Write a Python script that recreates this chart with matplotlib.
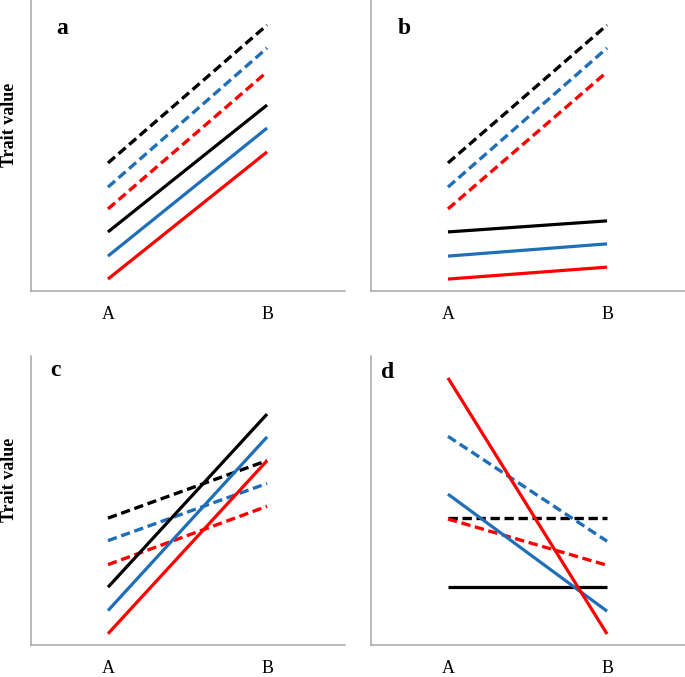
import numpy as np
import matplotlib
matplotlib.use('Agg')
from matplotlib import pyplot as plt

plt.rcParams['font.family'] = ['Liberation Serif', 'DejaVu Serif']

# x categories
groups = ['A', 'B']

# trait values at A and B for each line (arbitrary units, axis 0-100)
# order: black dashed, blue dashed, red dashed, black solid, blue solid, red solid
a_vals = [[44.0, 91.4], [35.7, 83.5], [28.2, 75.3], [20.3, 63.9], [12.0, 56.0], [4.1, 47.8]]
b_vals = [[44.0, 91.4], [35.7, 83.5], [28.2, 75.3], [20.3, 24.1], [12.0, 16.2], [4.1, 8.2]]
c_vals = [[43.9, 63.8], [36.1, 55.9], [27.8, 48.0], [20.0, 79.9], [11.9, 72.0], [3.9, 63.8]]
d_vals = [[43.9, 43.9], [72.2, 35.9], [43.6, 27.6], [20.0, 20.0], [52.2, 11.7], [92.4, 3.8]]

colors = ['black', '#1f6fb8', '#ff0000', 'black', '#1f6fb8', '#ff0000']
styles = ['--', '--', '--', '-', '-', '-']

W, H = 685, 677
fig = plt.figure(figsize=(W / 100, H / 100), dpi=100)

panels = [
    ('a', a_vals, 31, 345, 0, 291, (62, 29)),
    ('b', b_vals, 371, 685, 0, 291, (404, 29)),
    ('c', c_vals, 31, 345, 356, 645, (55, 371)),
    ('d', d_vals, 371, 685, 356, 645, (388, 373)),
]

for letter, vals, x0, x1, y0, y1, (lx, ly) in panels:
    ax = fig.add_axes([x0 / W, (H - y1) / H, (x1 - x0) / W, (y1 - y0) / H])
    x = np.arange(len(groups))
    for v, c, s in zip(vals, colors, styles):
        if s == '--':
            ax.plot(x, v, color=c, lw=2.4, dashes=(2.8, 1.4), dash_capstyle='butt')
        else:
            ax.plot(x, v, color=c, lw=2.3, solid_capstyle='butt')
    ax.set_xlim(-0.484, 0.49 + 1)
    ax.set_ylim(0, 100)
    ax.set_xticks(x)
    ax.set_xticklabels(groups, fontsize=13)
    ax.set_yticks([])
    ax.tick_params(axis='x', length=0, pad=11)
    for sp in ['top', 'right']:
        ax.spines[sp].set_visible(False)
    for sp in ['left', 'bottom']:
        ax.spines[sp].set_color('#a6a6a6')
        ax.spines[sp].set_linewidth(1.1)
    fig.text(lx / W, 1 - ly / H, letter, fontsize=17,
             fontweight='bold', ha='center', va='center')

fig.text(10 / W, 1 - 125 / H, 'Trait value', rotation=90, fontsize=13,
         fontweight='bold', ha='center', va='center')
fig.text(10 / W, 1 - 480 / H, 'Trait value', rotation=90, fontsize=13,
         fontweight='bold', ha='center', va='center')

fig.savefig('out.png', dpi=100, facecolor='white')
